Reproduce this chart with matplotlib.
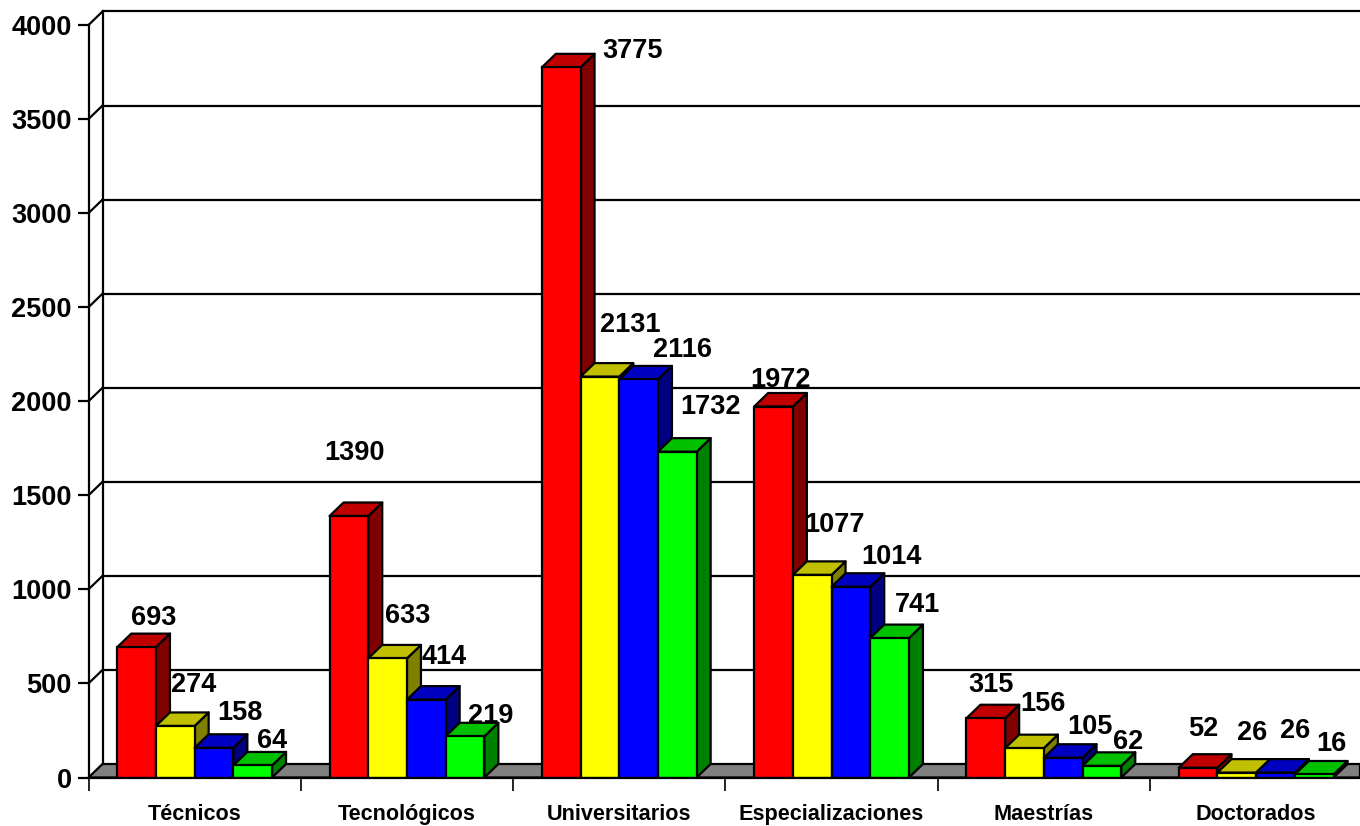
import numpy as np
import matplotlib
matplotlib.use("Agg")
import matplotlib.pyplot as plt
from matplotlib.patches import Polygon, Rectangle

plt.rcParams["font.family"] = ["Liberation Sans", "DejaVu Sans"]

# ---------------------------------------------------------------------------
# Data
# ---------------------------------------------------------------------------
categories = ["Técnicos", "Tecnológicos", "Universitarios",
              "Especializaciones", "Maestrías", "Doctorados"]
rojo     = [693, 1390, 3775, 1972, 315, 52]
amarillo = [274, 633, 2131, 1077, 156, 26]
azul     = [158, 414, 2116, 1014, 105, 26]
verde    = [64, 219, 1732, 741, 62, 16]
y_ticks  = [0, 500, 1000, 1500, 2000, 2500, 3000, 3500, 4000]

# front, top, side colours for each series
series = [
    (rojo,     "#ff0000", "#c00000", "#800000"),
    (amarillo, "#ffff00", "#c0c000", "#808000"),
    (azul,     "#0000ff", "#0000c0", "#000080"),
    (verde,    "#00ff00", "#00c000", "#008000"),
]

# label offsets from bar top centre [px], one row per series
offsets = [
    [(17, 29), (6, 63), (71, 16), (7, 27), (5, 33), (5, 39)],
    [(18, 41), (20, 42), (30, 52), (22, 50), (18, 44), (15, 40)],
    [(26, 35), (18, 43), (44, 29), (41, 30), (27, 31), (20, 42)],
    [(19, 24), (26, 20), (33, 45), (28, 33), (26, 24), (17, 30)],
]

# ---------------------------------------------------------------------------
# Layout in pixels of the 1360x826 figure
# ---------------------------------------------------------------------------
W, H = 1360, 826
X0, Y0, YTOP = 88.5, 777.5, 9.0
CAT_PX = 212.3
PX_PER_UNIT = (776.5 - 24.0) / 4000

fig = plt.figure(figsize=(W / 100, H / 100), dpi=100, facecolor="white")
ax = fig.add_axes([X0 / W, 1 - Y0 / H, (W - X0) / W, (Y0 - YTOP) / H])
ax.set_xlim(0, (W - X0) / CAT_PX)
ax.set_ylim(0, (Y0 - YTOP) / PX_PER_UNIT)

lw = 1.6
dx = 14 / CAT_PX            # depth of the 3D effect, x
dy = 13.5 / PX_PER_UNIT     # depth of the 3D effect, y
bar_w = 38.7 / CAT_PX
xmax = ax.get_xlim()[1]

# --- floor ---
ax.add_patch(Polygon([(0, 0), (dx, dy), (xmax, dy), (xmax, 0)], closed=True,
                     facecolor="#808080", edgecolor="black", linewidth=lw,
                     zorder=1, clip_on=False))

# --- back wall and grid ---
for t in y_ticks[1:]:
    ax.plot([dx, xmax], [t + dy, t + dy], color="black", lw=lw, zorder=1, clip_on=False)
    ax.plot([0, dx], [t, t + dy], color="black", lw=lw, zorder=1, clip_on=False)
ax.plot([dx, dx], [dy, 4000 + dy], color="black", lw=lw, zorder=1)

# --- bars ---
for c in range(len(categories)):
    for j, (vals, front, top, side) in enumerate(series):
        v = vals[c]
        xl = c + 0.5 + (j - 2) * bar_w
        xr = xl + bar_w
        z = 2 + c * 4 + j
        ax.add_patch(Polygon([(xr, 0), (xr + dx, dy), (xr + dx, v + dy), (xr, v)],
                             closed=True, facecolor=side, edgecolor="black",
                             linewidth=lw, joinstyle="round", zorder=z))
        ax.add_patch(Polygon([(xl, v), (xl + dx, v + dy), (xr + dx, v + dy), (xr, v)],
                             closed=True, facecolor=top, edgecolor="black",
                             linewidth=lw, joinstyle="round", zorder=z))
        ax.add_patch(Rectangle((xl, 0), bar_w, v, facecolor=front, edgecolor="black",
                               linewidth=lw, zorder=z))
        ax.annotate(str(v), xy=(xl + bar_w / 2, v), xytext=offsets[j][c],
                    textcoords="offset pixels", ha="center", va="center",
                    fontsize=19.5, fontweight="bold", color="black", zorder=50,
                    annotation_clip=False)

# --- axes ---
for s in ("top", "right"):
    ax.spines[s].set_visible(False)
ax.spines["left"].set_bounds(0, 4000)
ax.spines["left"].set_linewidth(lw)
ax.spines["bottom"].set_linewidth(lw)
ax.spines["left"].set_zorder(60)
ax.spines["bottom"].set_zorder(60)
ax.patch.set_visible(False)

ax.set_yticks(y_ticks)
ax.set_yticklabels([str(t) for t in y_ticks], fontsize=19.5, fontweight="bold")
ax.tick_params(axis="y", length=8, width=lw, pad=4)

ax.set_xticks(np.arange(0, 6))
ax.set_xticklabels([])
ax.tick_params(axis="x", which="major", length=9, width=1.2)
ax.set_xticks(np.arange(len(categories)) + 0.5, minor=True)
ax.set_xticklabels(categories, minor=True, fontsize=15.6, fontweight="bold")
ax.tick_params(axis="x", which="minor", length=0, pad=19)

fig.savefig("out.png", dpi=100)
